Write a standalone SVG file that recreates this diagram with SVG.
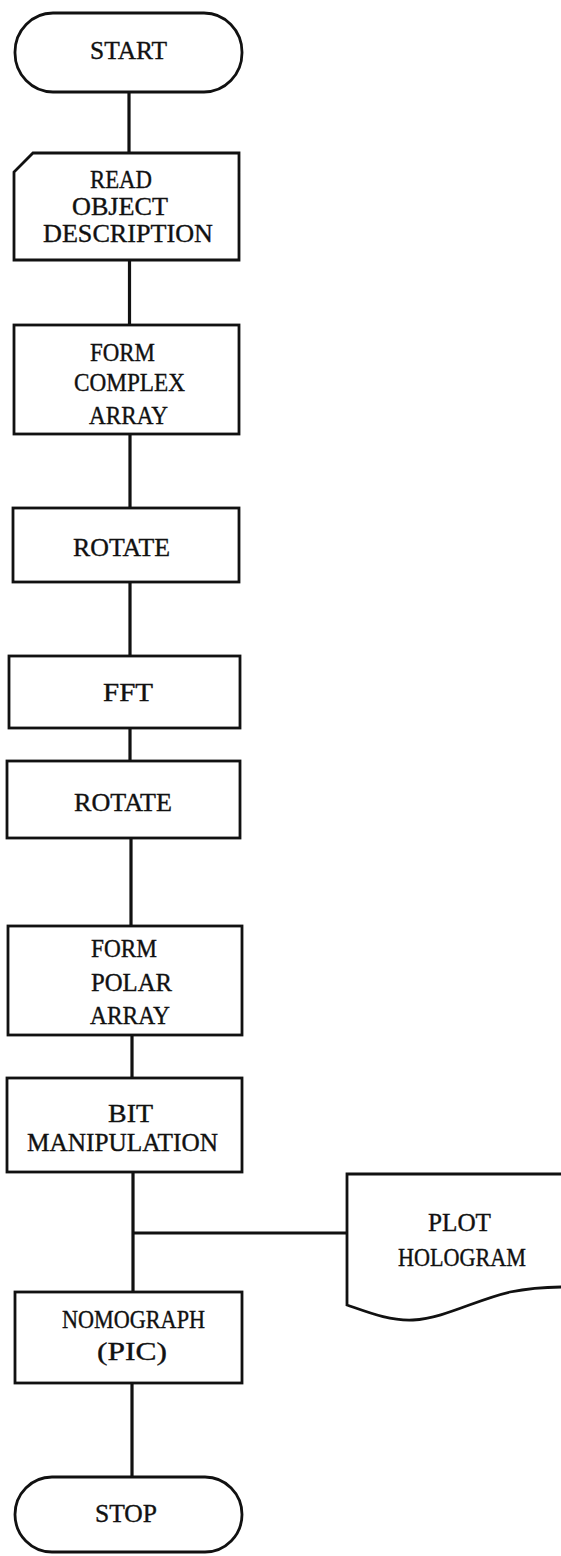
<svg xmlns="http://www.w3.org/2000/svg" width="561" height="1556" viewBox="0 0 561 1556">
<style>
.shape{fill:#fff;stroke:#111;stroke-width:2.8;stroke-linejoin:miter}
.conn line{stroke:#111;stroke-width:3.2;stroke-linecap:butt}
text{font-family:"Liberation Serif","DejaVu Serif",serif;font-size:24.5px;fill:#111;stroke:#111;stroke-width:0.35}
</style>
<rect width="561" height="1556" fill="#fff"/>
<g id="connectors" class="conn">
<line x1="129" y1="92" x2="129" y2="153"/>
<line x1="129.5" y1="260" x2="129.5" y2="325"/>
<line x1="130" y1="434" x2="130" y2="508"/>
<line x1="130" y1="582" x2="130" y2="656"/>
<line x1="130" y1="728" x2="130" y2="761"/>
<line x1="131" y1="838" x2="131" y2="926"/>
<line x1="132" y1="1035" x2="132" y2="1078"/>
<line x1="133" y1="1172" x2="133" y2="1292"/>
<line x1="133" y1="1233" x2="347" y2="1233"/>
<line x1="132" y1="1383" x2="132" y2="1477"/>
</g>
<g id="start">
<rect class="shape" x="15" y="13" width="227" height="79" rx="38" ry="39"/>
<text x="90" y="59" textLength="77" lengthAdjust="spacingAndGlyphs">START</text>
</g>
<g id="read">
<path class="shape" d="M33,153 H239 V260 H14 V172 Z"/>
<text x="90" y="188" textLength="62" lengthAdjust="spacingAndGlyphs">READ</text>
<text x="72" y="215" textLength="96" lengthAdjust="spacingAndGlyphs">OBJECT</text>
<text x="43" y="242" textLength="170" lengthAdjust="spacingAndGlyphs">DESCRIPTION</text>
</g>
<g id="formComplex">
<rect class="shape" x="14" y="325" width="225" height="109"/>
<text x="90" y="361" textLength="65" lengthAdjust="spacingAndGlyphs">FORM</text>
<text x="74" y="391" textLength="111" lengthAdjust="spacingAndGlyphs">COMPLEX</text>
<text x="89" y="424" textLength="79" lengthAdjust="spacingAndGlyphs">ARRAY</text>
</g>
<g id="rotate1">
<rect class="shape" x="13" y="508" width="226" height="74"/>
<text x="73" y="556" textLength="97" lengthAdjust="spacingAndGlyphs">ROTATE</text>
</g>
<g id="fft">
<rect class="shape" x="9" y="656" width="231" height="72"/>
<text x="103" y="701" textLength="50" lengthAdjust="spacingAndGlyphs">FFT</text>
</g>
<g id="rotate2">
<rect class="shape" x="7" y="761" width="233" height="77"/>
<text x="74" y="811" textLength="98" lengthAdjust="spacingAndGlyphs">ROTATE</text>
</g>
<g id="formPolar">
<rect class="shape" x="8" y="926" width="234" height="109"/>
<text x="91" y="957" textLength="66" lengthAdjust="spacingAndGlyphs">FORM</text>
<text x="91" y="991" textLength="81" lengthAdjust="spacingAndGlyphs">POLAR</text>
<text x="90" y="1024" textLength="80" lengthAdjust="spacingAndGlyphs">ARRAY</text>
</g>
<g id="bitManipulation">
<rect class="shape" x="7" y="1078" width="235" height="94"/>
<text x="108" y="1122" textLength="45" lengthAdjust="spacingAndGlyphs">BIT</text>
<text x="27" y="1151" textLength="191" lengthAdjust="spacingAndGlyphs">MANIPULATION</text>
</g>
<g id="plotHologram">
<path class="shape" d="M347,1174 H564 V1287 C545,1287 530,1288 510,1292 C475,1300 445,1318 413,1320 C390,1321 370,1313 347,1305 Z"/>
<text x="428" y="1231" textLength="63" lengthAdjust="spacingAndGlyphs">PLOT</text>
<text x="398" y="1266" textLength="128" lengthAdjust="spacingAndGlyphs">HOLOGRAM</text>
</g>
<g id="nomograph">
<rect class="shape" x="15" y="1292" width="227" height="91"/>
<text x="62" y="1328" textLength="143" lengthAdjust="spacingAndGlyphs">NOMOGRAPH</text>
<text x="97" y="1360" textLength="70" lengthAdjust="spacingAndGlyphs">(PIC)</text>
</g>
<g id="stop">
<rect class="shape" x="15" y="1477" width="227" height="75" rx="37" ry="37.5"/>
<text x="95" y="1522" textLength="62" lengthAdjust="spacingAndGlyphs">STOP</text>
</g>
</svg>
